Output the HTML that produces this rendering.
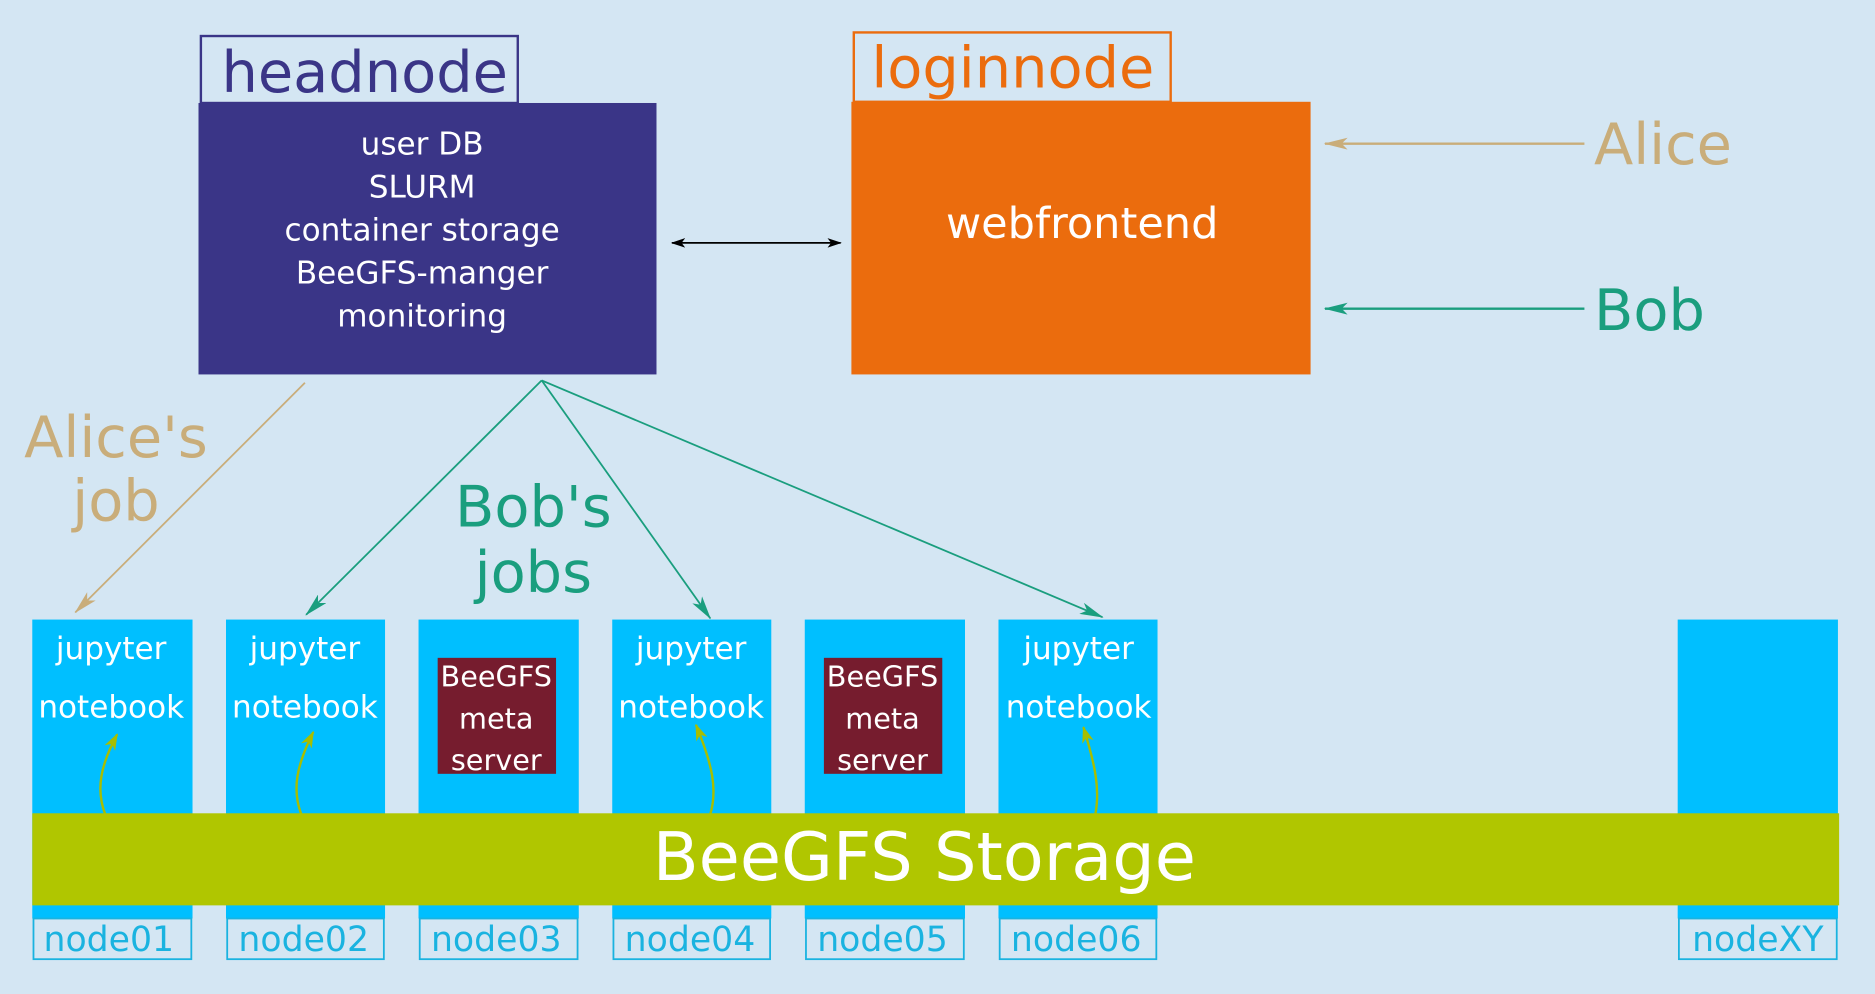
<!DOCTYPE html>
<html><head><meta charset="utf-8"><style>
html,body{margin:0;padding:0;background:#d4e6f3;}
svg{display:block;}
text{font-family:"DejaVu Sans","Liberation Sans",sans-serif;}
</style></head><body>
<svg width="1875" height="994" viewBox="0 0 1568 831" xmlns="http://www.w3.org/2000/svg">
<defs>
<marker id="ab" markerWidth="12" markerHeight="8" refX="11" refY="4" orient="auto-start-reverse" markerUnits="userSpaceOnUse"><path d="M0,0 L12,4 L0,8 L3,4 Z" fill="#000"/></marker>
<marker id="at" markerWidth="20" markerHeight="10" refX="19" refY="5" orient="auto" markerUnits="userSpaceOnUse"><path d="M0,0 L20,5 L0,10 L5,5 Z" fill="#c9ad7a"/></marker>
<marker id="ag" markerWidth="20" markerHeight="10" refX="19" refY="5" orient="auto" markerUnits="userSpaceOnUse"><path d="M0,0 L20,5 L0,10 L5,5 Z" fill="#1a9e7e"/></marker>
<marker id="ay" markerWidth="14" markerHeight="10" refX="13" refY="5" orient="auto" markerUnits="userSpaceOnUse"><path d="M0,0 L14,5 L0,10 L4,5 Z" fill="#a8be00"/></marker>
</defs>
<rect width="1568" height="831" fill="#d4e6f3"/>
<rect x="168" y="30" width="265" height="56" fill="none" stroke="#3a3587" stroke-width="2"/>
<text x="305" y="77" font-size="48" fill="#3a3587" text-anchor="middle">headnode</text>
<rect x="166" y="86" width="383" height="227" fill="#3a3587"/>
<g fill="#fff" font-size="26" text-anchor="middle">
<text x="353" y="129">user DB</text>
<text x="353" y="165">SLURM</text>
<text x="353" y="201">container storage</text>
<text x="353" y="237">BeeGFS-manger</text>
<text x="353" y="273">monitoring</text>
</g>
<rect x="714" y="27" width="265" height="58" fill="none" stroke="#eb6c0d" stroke-width="2"/>
<text x="847" y="73" font-size="48" fill="#eb6c0d" text-anchor="middle">loginnode</text>
<rect x="712" y="85" width="384" height="228" fill="#eb6c0d"/>
<text x="905" y="199" font-size="36" fill="#fff" text-anchor="middle">webfrontend</text>
<line x1="562" y1="203" x2="703" y2="203" stroke="#000" stroke-width="1.5" marker-start="url(#ab)" marker-end="url(#ab)"/>
<line x1="1325" y1="120" x2="1108" y2="120" stroke="#c9ad7a" stroke-width="2" marker-end="url(#at)"/>
<text x="1333" y="137" font-size="48" fill="#c9ad7a">Alice</text>
<line x1="1325" y1="258" x2="1108" y2="258" stroke="#1a9e7e" stroke-width="2" marker-end="url(#ag)"/>
<text x="1333" y="276" font-size="48" fill="#1a9e7e">Bob</text>
<text x="97" y="382" font-size="48" fill="#c9ad7a" text-anchor="middle">Alice's</text>
<text x="97" y="435" font-size="48" fill="#c9ad7a" text-anchor="middle">job</text>
<line x1="255" y1="320" x2="63" y2="512" stroke="#c9ad7a" stroke-width="1.5" marker-end="url(#at)"/>
<text x="446" y="440" font-size="48" fill="#1a9e7e" text-anchor="middle">Bob's</text>
<text x="446" y="495" font-size="48" fill="#1a9e7e" text-anchor="middle">jobs</text>
<g stroke="#1a9e7e" stroke-width="1.5" fill="none">
<line x1="453" y1="318" x2="256" y2="514" marker-end="url(#ag)"/>
<line x1="453" y1="318" x2="594" y2="517" marker-end="url(#ag)"/>
<line x1="453" y1="318" x2="922" y2="516" marker-end="url(#ag)"/>
</g>
<g fill="#00bfff">
<rect x="27" y="518" width="134" height="250"/>
<rect x="189" y="518" width="133" height="250"/>
<rect x="350" y="518" width="134" height="250"/>
<rect x="512" y="518" width="133" height="250"/>
<rect x="673" y="518" width="134" height="250"/>
<rect x="835" y="518" width="133" height="250"/>
<rect x="1403" y="518" width="134" height="250"/>
</g>
<g fill="#d4e6f3" stroke="#1ab3e0" stroke-width="1.5">
<rect x="28" y="768" width="132" height="34"/>
<rect x="190" y="768" width="131" height="34"/>
<rect x="351" y="768" width="132" height="34"/>
<rect x="513" y="768" width="131" height="34"/>
<rect x="674" y="768" width="132" height="34"/>
<rect x="836" y="768" width="131" height="34"/>
<rect x="1404" y="768" width="132" height="34"/>
</g>
<g fill="#1ab3e0" font-size="29" text-anchor="middle">
<text x="91" y="795">node01</text>
<text x="254" y="795">node02</text>
<text x="415" y="795">node03</text>
<text x="577" y="795">node04</text>
<text x="738" y="795">node05</text>
<text x="900" y="795">node06</text>
<text x="1470" y="795">nodeXY</text>
</g>
<g fill="#fff" font-size="26" text-anchor="middle">
<text x="93" y="551">jupyter</text><text x="93" y="600">notebook</text>
<text x="255" y="551">jupyter</text><text x="255" y="600">notebook</text>
<text x="578" y="551">jupyter</text><text x="578" y="600">notebook</text>
<text x="902" y="551">jupyter</text><text x="902" y="600">notebook</text>
</g>
<rect x="366" y="550" width="99" height="97" fill="#761c2e"/>
<rect x="689" y="550" width="99" height="97" fill="#761c2e"/>
<g fill="#fff" font-size="24" text-anchor="middle">
<text x="415" y="574">BeeGFS</text><text x="415" y="609">meta</text><text x="415" y="644">server</text>
<text x="738" y="574">BeeGFS</text><text x="738" y="609">meta</text><text x="738" y="644">server</text>
</g>
<g stroke="#a8be00" stroke-width="2" fill="none">
<path d="M88,681 C80,660 84,640 98,614" marker-end="url(#ay)"/>
<path d="M252,681 C244,660 248,640 262,612" marker-end="url(#ay)"/>
<path d="M594,681 C600,660 596,640 582,606" marker-end="url(#ay)"/>
<path d="M916,681 C920,660 916,640 906,608" marker-end="url(#ay)"/>
</g>
<rect x="27" y="680" width="1511" height="77" fill="#b0c600"/>
<text x="773" y="736" font-size="56" fill="#fff" text-anchor="middle">BeeGFS Storage</text>
</svg>
</body></html>
